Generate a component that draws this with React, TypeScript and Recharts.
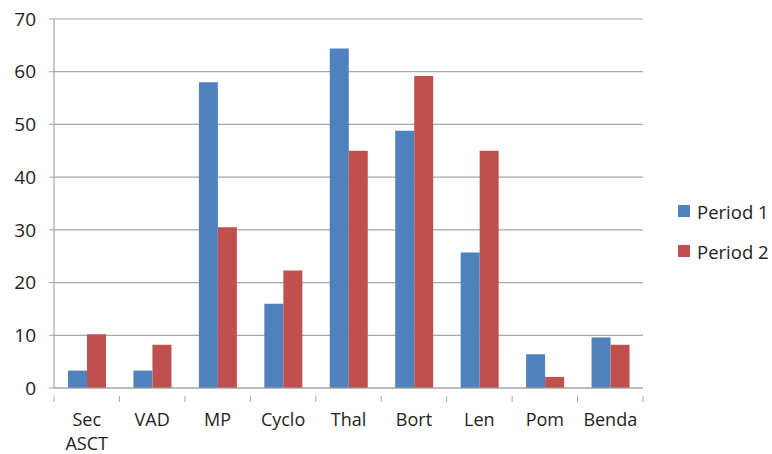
import { BarChart, Bar, XAxis, YAxis, CartesianGrid } from "recharts";

const categories = ["Sec ASCT", "VAD", "MP", "Cyclo", "Thal", "Bort", "Len", "Pom", "Benda"];
const period1 = [3.3, 3.3, 58.0, 16.0, 64.4, 48.8, 25.7, 6.4, 9.6];
const period2 = [10.2, 8.2, 30.5, 22.3, 45.0, 59.2, 45.0, 2.1, 8.2];
const seriesNames = ["Period 1", "Period 2"];
const yTicks = [0, 10, 20, 30, 40, 50, 60, 70];

const data = categories.map((name, i) => ({ name, p1: period1[i], p2: period2[i] }));

const W = 772;
const H = 454;
const MARGIN = { top: 19, right: 129, bottom: 0, left: 8 };
const Y_WIDTH = 46;
const FONT = "'Open Sans', sans-serif";
const GRID = "#a6a6a6";
const TEXT = "#1e1e1e";
const COLORS = ["#4f81bd", "#c0504d"];
const BAND = (W - MARGIN.left - MARGIN.right - Y_WIDTH) / categories.length;

const CategoryTick = ({ x, y, payload, index }: any) => {
    const lines = String(payload.value).split(" ");
    const left = x - BAND / 2;
    return (
        <g>
            <line x1={left} x2={left} y1={y} y2={y + 6} stroke={GRID} />
            {index === categories.length - 1 && (
                <line x1={left + BAND} x2={left + BAND} y1={y} y2={y + 6} stroke={GRID} />
            )}
            <text x={x} y={y + 30} textAnchor="middle" fill={TEXT} fontSize={18} fontFamily={FONT}>
                {lines.map((l, i) => (
                    <tspan key={i} x={x} dy={i === 0 ? 0 : 24}>
                        {l}
                    </tspan>
                ))}
            </text>
        </g>
    );
};

export default function App() {
    return (
        <div style={{ position: "absolute", left: 0, top: 0, width: W, height: H, background: "#fff" }}>
            <BarChart width={W} height={H} data={data} margin={MARGIN} barGap={0} barCategoryGap={14}>
                <CartesianGrid vertical={false} stroke={GRID} strokeWidth={1.2} />
                <XAxis
                    dataKey="name"
                    interval={0}
                    height={66}
                    tickLine={false}
                    axisLine={{ stroke: GRID, strokeWidth: 1.2 }}
                    tick={<CategoryTick />}
                />
                <YAxis
                    width={Y_WIDTH}
                    domain={[0, 70]}
                    ticks={yTicks}
                    tickSize={5}
                    tickMargin={13}
                    axisLine={{ stroke: GRID, strokeWidth: 1.2 }}
                    tickLine={{ stroke: GRID }}
                    tick={{ fill: TEXT, fontSize: 19, fontFamily: FONT }}
                />
                <Bar dataKey="p1" name={seriesNames[0]} fill={COLORS[0]} isAnimationActive={false} />
                <Bar dataKey="p2" name={seriesNames[1]} fill={COLORS[1]} isAnimationActive={false} />
            </BarChart>
            <div style={{ position: "absolute", left: 678, top: 191, fontFamily: FONT, fontSize: 18.5, color: TEXT }}>
                {seriesNames.map((n, i) => (
                    <div key={n} style={{ display: "flex", alignItems: "center", height: 40, whiteSpace: "nowrap" }}>
                        <span style={{ width: 12, height: 12, background: COLORS[i], marginRight: 7, display: "inline-block" }} />
                        {n}
                    </div>
                ))}
            </div>
        </div>
    );
}
